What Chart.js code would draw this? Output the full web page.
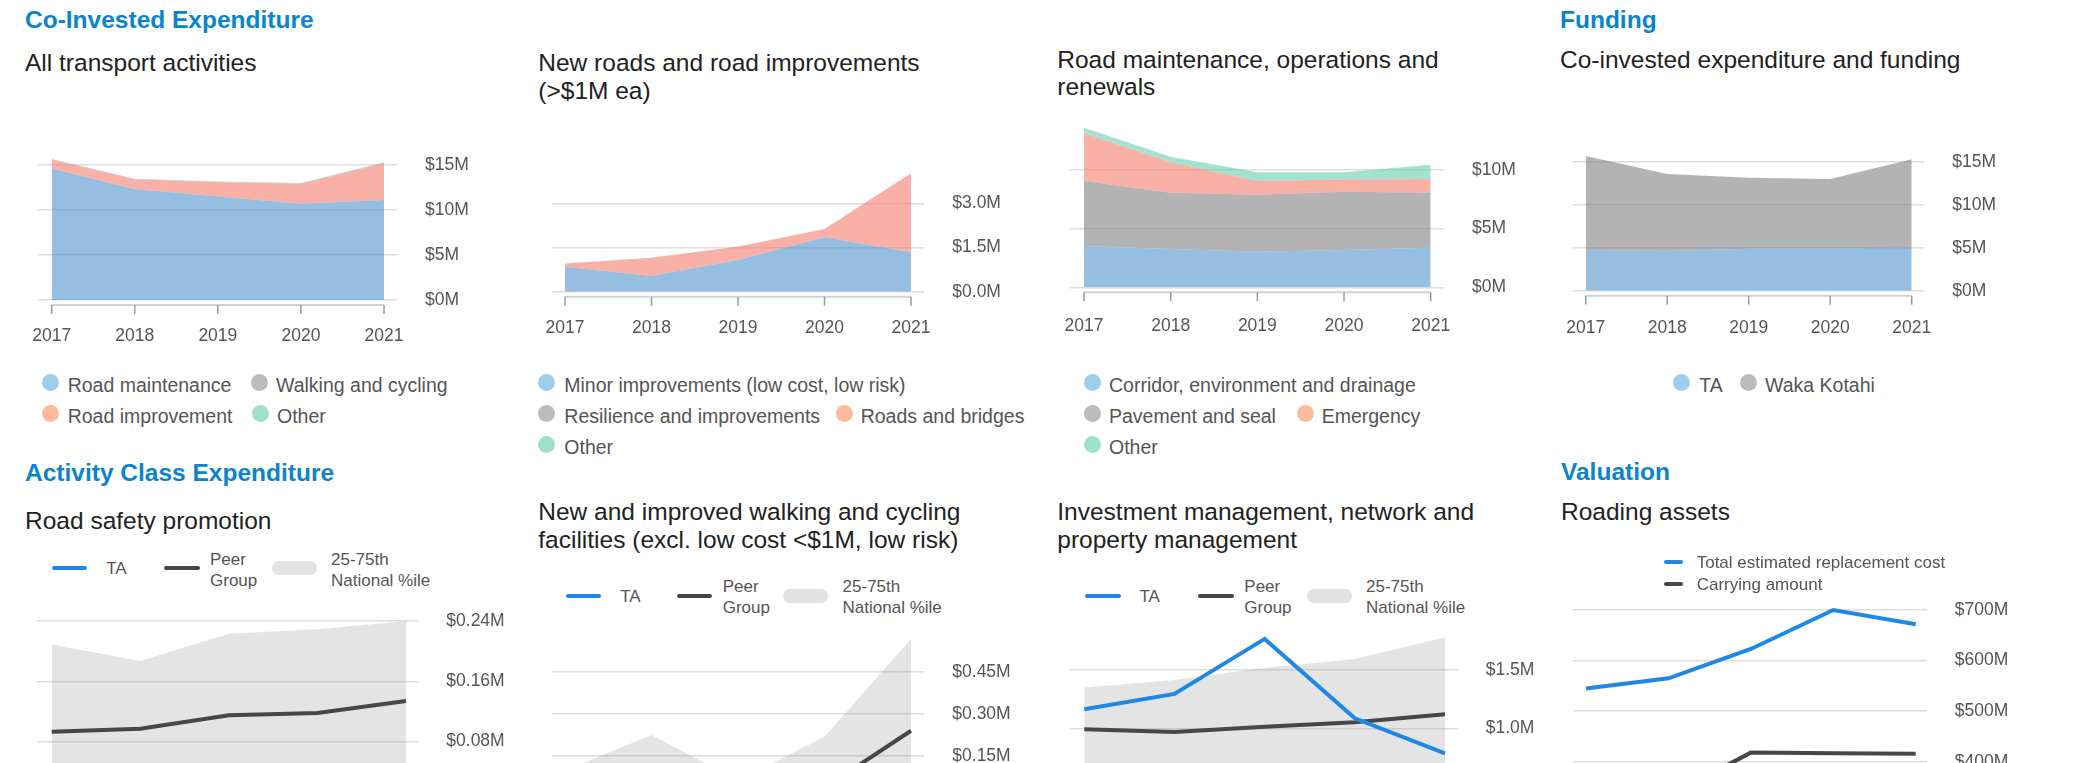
<!DOCTYPE html>
<html>
<head>
<meta charset="utf-8">
<title>Transport investment dashboard</title>
<script src="https://cdn.jsdelivr.net/npm/chart.js@4.4.1/dist/chart.umd.min.js"></script>
<style>
  html, body { margin: 0; padding: 0; background: #fff; }
  body {
    width: 2074px; height: 763px; overflow: hidden; position: relative;
    font-family: "Liberation Sans", Arial, sans-serif;
  }
  .txt { position: absolute; white-space: nowrap; line-height: 1; }
  .dot { position: absolute; width: 17px; height: 17px; border-radius: 50%; }
  .swatch { position: absolute; height: 4px; border-radius: 2px; }
  .band { position: absolute; height: 14px; border-radius: 7px; background: #e2e2e2; }
  canvas { position: absolute; }
</style>
</head>
<body>
<script>
const years = [2017, 2018, 2019, 2020, 2021];

// All transport activities ($M)
const allRoadMaintenance = [14.6, 12.3, 11.5, 10.7, 11.1];
const allWalkingCycling = [0.02, 0.02, 0.02, 0.02, 0.02];
const allRoadImprovement = [1.0, 1.1, 1.6, 2.2, 4.1];
const allOther = [0.04, 0.05, 0.06, 0.07, 0.08];
const allTicks = [0, 5, 10, 15];

// New roads and road improvements ($M)
const nrMinor = [0.85, 0.53, 1.08, 1.85, 1.34];
const nrResilience = [0, 0, 0, 0, 0];
const nrRoadsBridges = [0.11, 0.62, 0.45, 0.28, 2.68];
const nrOther = [0, 0, 0, 0, 0];
const nrTicks = [0, 1.5, 3.0];

// Road maintenance, operations and renewals ($M)
const rmCorridor = [3.52, 3.26, 3.04, 3.18, 3.38];
const rmPavement = [5.54, 4.81, 4.86, 4.97, 4.69];
const rmEmergency = [4.07, 2.59, 1.16, 1.05, 1.16];
const rmOther = [0.47, 0.47, 0.74, 0.60, 1.22];
const rmTicks = [0, 5, 10];

// Co-invested expenditure and funding ($M)
const fundTA = [4.73, 4.62, 4.88, 4.88, 5.04];
const fundWaka = [10.93, 8.95, 8.26, 8.11, 10.24];
const fundTicks = [0, 5, 10, 15];

// Road safety promotion ($M)
const rsTA = [0.03, 0.02, 0.04, 0.03, 0.02];
const rsPeer = [0.093, 0.097, 0.115, 0.118, 0.134];
const rsLow = [0.04, 0.035, 0.045, 0.045, 0.05];
const rsHigh = [0.209, 0.187, 0.223, 0.229, 0.240];
const rsTicks = [0, 0.08, 0.16, 0.24];

// New and improved walking and cycling facilities ($M)
const wcTA = [0.0, 0.0, 0.0, 0.0, 0.0];
const wcPeer = [0.03, 0.03, 0.02, 0.035, 0.239];
const wcLow = [0.0, 0.0, 0.0, 0.0, 0.01];
const wcHigh = [0.097, 0.224, 0.061, 0.218, 0.567];
const wcTicks = [0, 0.15, 0.30, 0.45];

// Investment management, network and property management ($M)
const imTA = [1.165, 1.296, 1.765, 1.088, 0.79];
const imPeer = [0.995, 0.972, 1.017, 1.054, 1.122];
const imLow = [0.55, 0.55, 0.6, 0.6, 0.62];
const imHigh = [1.35, 1.415, 1.52, 1.594, 1.78];
const imTicks = [0, 0.5, 1.0, 1.5];

// Roading assets ($M)
const raReplacement = [545, 565, 623, 700, 672];
const raCarrying = [325, 332, 418, 417, 416];
const raTicks = [300, 400, 500, 600, 700];

// colours
const areaBlue = "rgba(70, 140, 200, 0.57)";
const areaGray = "rgba(122, 122, 122, 0.57)";
const areaRed = "rgba(244, 118, 101, 0.57)";
const areaGreen = "rgba(94, 204, 171, 0.57)";
const dotBlue = "#9ccfec", dotGray = "#bbbbbd", dotPeach = "#fdbb9b", dotTeal = "#9ee0cb";
const lineBlue = "#1f88e6";
const lineDark = "#474747";
const bandFill = "rgba(150, 150, 150, 0.26)";

// ---------- text helpers ----------
function text(str, x, baseline, size, color, bold) {
  const d = document.createElement("div");
  d.className = "txt";
  d.textContent = str;
  d.style.left = x + "px";
  d.style.top = (baseline - 0.8465 * size) + "px";
  d.style.fontSize = size + "px";
  d.style.color = color;
  if (bold) d.style.fontWeight = "bold";
  document.body.appendChild(d);
}
const heading = (s, x, b) => text(s, x, b, 24.5, "#0a84cc", true);
const subtitle = (s, x, b) => text(s, x, b, 24.5, "#222", false);

function dotItem(label, color, dotX, textX, baseline) {
  const d = document.createElement("div");
  d.className = "dot";
  d.style.background = color;
  d.style.left = (dotX - 8.5) + "px";
  d.style.top = (baseline - 10.3 - 8.5) + "px";
  document.body.appendChild(d);
  text(label, textX, baseline, 19.5, "#555");
}

function swatch(x1, x2, y, color) {
  const d = document.createElement("div");
  d.className = "swatch";
  d.style.background = color;
  d.style.left = x1 + "px";
  d.style.width = (x2 - x1) + "px";
  d.style.top = (y - 2) + "px";
  document.body.appendChild(d);
}

function bandLegend(lineY, taX, peerX, bandX) {
  swatch(taX, taX + 35.5, lineY, lineBlue);
  text("TA", taX + 54.5, lineY + 6.5, 17, "#555");
  swatch(peerX, peerX + 35.5, lineY, lineDark);
  text("Peer", peerX + 46, lineY - 3.3, 17, "#555");
  text("Group", peerX + 46, lineY + 17.6, 17, "#555");
  const b = document.createElement("div");
  b.className = "band";
  b.style.left = bandX + "px";
  b.style.width = "45px";
  b.style.top = (lineY - 7) + "px";
  document.body.appendChild(b);
  text("25-75th", bandX + 59.3, lineY - 3.3, 17, "#555");
  text("National %ile", bandX + 59.3, lineY + 17.6, 17, "#555");
}

// ---------- chart helpers ----------
const xy = vals => years.map((yr, i) => ({ x: yr, y: vals[i] }));

function area(label, vals, color, first) {
  return { label, data: xy(vals), fill: first ? "origin" : "-1", backgroundColor: color,
           borderWidth: 0, pointRadius: 0, tension: 0 };
}
function line(label, vals, color) {
  return { label, data: xy(vals), fill: false, borderColor: color, borderWidth: 4,
           pointRadius: 0, tension: 0 };
}
function band(label, vals, toNext) {
  return { label, data: xy(vals), fill: toNext ? "+1" : false, backgroundColor: bandFill,
           borderWidth: 0, pointRadius: 0, tension: 0 };
}

// axis baseline with year ticks, drawn under the plot
const yearAxis = {
  id: "yearAxis",
  afterDraw(chart, args, opts) {
    if (!opts.show) return;
    const { ctx, chartArea, scales } = chart;
    const y0 = chartArea.bottom + 5;
    const xs = years.map(v => scales.x.getPixelForValue(v));
    ctx.save();
    ctx.strokeStyle = "#d2d2d2";
    ctx.lineWidth = 2;
    ctx.beginPath();
    ctx.moveTo(xs[0], y0);
    ctx.lineTo(xs[xs.length - 1], y0);
    ctx.stroke();
    ctx.strokeStyle = "#9a9a9a";
    ctx.lineWidth = 1.5;
    xs.forEach(x => {
      ctx.beginPath();
      ctx.moveTo(x, y0);
      ctx.lineTo(x, y0 + 9);
      ctx.stroke();
    });
    ctx.restore();
  }
};

function makeChart(g, datasets, yTicks, digits, stacked, showAxis) {
  const left = Math.round(g.gridLeft - 30);
  const top = Math.round(g.top - 6);
  const width = Math.round(g.gridRight + 110) - left;
  const height = Math.round(g.bottom + 60) - top;
  const canvas = document.createElement("canvas");
  canvas.width = width;
  canvas.height = height;
  canvas.style.left = left + "px";
  canvas.style.top = top + "px";
  canvas.style.width = width + "px";
  canvas.style.height = height + "px";
  document.body.appendChild(canvas);

  const ppy = (g.xLast - g.xFirst) / (years.length - 1);
  const xMin = years[0] - (g.xFirst - g.gridLeft) / ppy;
  const xMax = years[years.length - 1] + (g.gridRight - g.xLast) / ppy;
  const yMax = g.yMin + (g.refV - g.yMin) * (g.bottom - g.top) / (g.bottom - g.refY);

  return new Chart(canvas, {
    type: "line",
    data: { datasets },
    options: {
      responsive: false,
      animation: false,
      events: [],
      layout: { padding: { left: g.gridLeft - left, top: g.top - top, right: 0, bottom: 0 } },
      plugins: { legend: { display: false }, tooltip: { enabled: false }, yearAxis: { show: showAxis } },
      scales: {
        x: {
          type: "linear", min: xMin, max: xMax, bounds: "data",
          grid: { display: false, drawTicks: false },
          border: { display: false },
          ticks: { padding: g.labelPad || 25, color: "#555", font: { size: 17.5 }, maxRotation: 0,
                   autoSkip: false, callback: v => String(v) },
          afterBuildTicks: s => { s.ticks = years.map(v => ({ value: v })); },
          afterFit: s => { s.height = top + height - g.bottom; s.paddingLeft = 0; s.paddingRight = 0; }
        },
        y: {
          position: "right", min: g.yMin, max: yMax, stacked, bounds: "data",
          grid: { color: "#dddddd", lineWidth: 1.5, drawTicks: false },
          border: { display: false },
          ticks: { padding: 28, color: "#555", font: { size: 17.5 }, autoSkip: false,
                   callback: v => "$" + v.toFixed(digits) + "M" },
          afterBuildTicks: s => { s.ticks = yTicks.map(v => ({ value: v })); },
          afterFit: s => { s.width = left + width - g.gridRight; s.paddingTop = 0; s.paddingBottom = 0; }
        }
      }
    },
    plugins: [yearAxis]
  });
}

// ---------- headings ----------
heading("Co-Invested Expenditure", 25, 28.3);
heading("Funding", 1560, 28.3);
heading("Activity Class Expenditure", 25, 481.7);
heading("Valuation", 1561, 481);

subtitle("All transport activities", 25, 71.5);
subtitle("New roads and road improvements", 538.3, 71.7);
subtitle("(>$1M ea)", 538.3, 100);
subtitle("Road maintenance, operations and", 1057.3, 68.3);
subtitle("renewals", 1057.3, 96);
subtitle("Co-invested expenditure and funding", 1560, 68.3);
subtitle("Road safety promotion", 25, 530);
subtitle("New and improved walking and cycling", 538.3, 521);
subtitle("facilities (excl. low cost <$1M, low risk)", 538.3, 548.3);
subtitle("Investment management, network and", 1057.3, 521);
subtitle("property management", 1057.3, 548.3);
subtitle("Roading assets", 1561, 521);

// ---------- top row: stacked areas ----------
makeChart({ gridLeft: 38, gridRight: 397, xFirst: 51.7, xLast: 384, top: 140, bottom: 300, yMin: 0, refY: 165, refV: 15, labelPad: 25.5 }, [
  area("Road maintenance", allRoadMaintenance, areaBlue, true),
  area("Walking and cycling", allWalkingCycling, areaGray),
  area("Road improvement", allRoadImprovement, areaRed),
  area("Other", allOther, areaGreen)
], allTicks, 0, true, true);
dotItem("Road maintenance", dotBlue, 50, 67.7, 392.3);
dotItem("Walking and cycling", dotGray, 259, 276, 392.3);
dotItem("Road improvement", dotPeach, 50, 67.7, 423.3);
dotItem("Other", dotTeal, 260, 277, 423.3);

makeChart({ gridLeft: 551.7, gridRight: 924.3, xFirst: 565, xLast: 911, top: 160, bottom: 291.7, yMin: 0, refY: 203.3, refV: 3, labelPad: 26 }, [
  area("Minor improvements (low cost, low risk)", nrMinor, areaBlue, true),
  area("Resilience and improvements", nrResilience, areaGray),
  area("Roads and bridges", nrRoadsBridges, areaRed),
  area("Other", nrOther, areaGreen)
], nrTicks, 1, true, true);
dotItem("Minor improvements (low cost, low risk)", dotBlue, 546.7, 564.3, 392.3);
dotItem("Resilience and improvements", dotGray, 546.7, 564.3, 423.3);
dotItem("Roads and bridges", dotPeach, 844, 860.7, 423.3);
dotItem("Other", dotTeal, 546.7, 564.3, 455);

makeChart({ gridLeft: 1070, gridRight: 1444, xFirst: 1084, xLast: 1430.7, top: 120, bottom: 287.3, yMin: 0, refY: 170, refV: 10, labelPad: 28.5 }, [
  area("Corridor, environment and drainage", rmCorridor, areaBlue, true),
  area("Pavement and seal", rmPavement, areaGray),
  area("Emergency", rmEmergency, areaRed),
  area("Other", rmOther, areaGreen)
], rmTicks, 0, true, true);
dotItem("Corridor, environment and drainage", dotBlue, 1092.3, 1109, 392.3);
dotItem("Pavement and seal", dotGray, 1092.3, 1109, 423.3);
dotItem("Emergency", dotPeach, 1305, 1321.7, 423.3);
dotItem("Other", dotTeal, 1092.3, 1109, 455);

makeChart({ gridLeft: 1572.7, gridRight: 1924.3, xFirst: 1585.7, xLast: 1911.7, top: 145, bottom: 290.7, yMin: 0, refY: 161.7, refV: 15, labelPad: 27 }, [
  area("TA", fundTA, areaBlue, true),
  area("Waka Kotahi", fundWaka, areaGray)
], fundTicks, 0, true, true);
dotItem("TA", dotBlue, 1681.7, 1699.3, 392.3);
dotItem("Waka Kotahi", dotGray, 1748.3, 1765, 392.3);

// ---------- bottom row: lines against the national band ----------
makeChart({ gridLeft: 37.3, gridRight: 418.3, xFirst: 51.7, xLast: 406, top: 605, bottom: 802, yMin: 0, refY: 621, refV: 0.24 }, [
  line("TA", rsTA, lineBlue),
  line("Peer Group", rsPeer, lineDark),
  band("75th", rsHigh, true),
  band("25th", rsLow, false)
], rsTicks, 2, false, false);
bandLegend(568.3, 51.7, 164, 271.7);

makeChart({ gridLeft: 551.7, gridRight: 924.3, xFirst: 565, xLast: 911, top: 630, bottom: 797.7, yMin: 0, refY: 671.7, refV: 0.45 }, [
  line("TA", wcTA, lineBlue),
  line("Peer Group", wcPeer, lineDark),
  band("75th", wcHigh, true),
  band("25th", wcLow, false)
], wcTicks, 2, false, false);
bandLegend(595.7, 565.7, 676.7, 783.3);

makeChart({ gridLeft: 1070, gridRight: 1457.7, xFirst: 1084.3, xLast: 1445, top: 625, bottom: 846, yMin: 0, refY: 670, refV: 1.5 }, [
  line("TA", imTA, lineBlue),
  line("Peer Group", imPeer, lineDark),
  band("75th", imHigh, true),
  band("25th", imLow, false)
], imTicks, 1, false, false);
bandLegend(595.7, 1085, 1198.3, 1306.7);

makeChart({ gridLeft: 1573.3, gridRight: 1926.7, xFirst: 1586, xLast: 1915.7, top: 600, bottom: 812.3, yMin: 300, refY: 610, refV: 700 }, [
  line("Total estimated replacement cost", raReplacement, lineBlue),
  line("Carrying amount", raCarrying, lineDark)
], raTicks, 0, false, false);
swatch(1664, 1683.3, 562.3, lineBlue);
text("Total estimated replacement cost", 1696.7, 568.3, 17, "#555");
swatch(1664, 1683.3, 584, lineDark);
text("Carrying amount", 1696.7, 590, 17, "#555");
</script>
</body>
</html>
